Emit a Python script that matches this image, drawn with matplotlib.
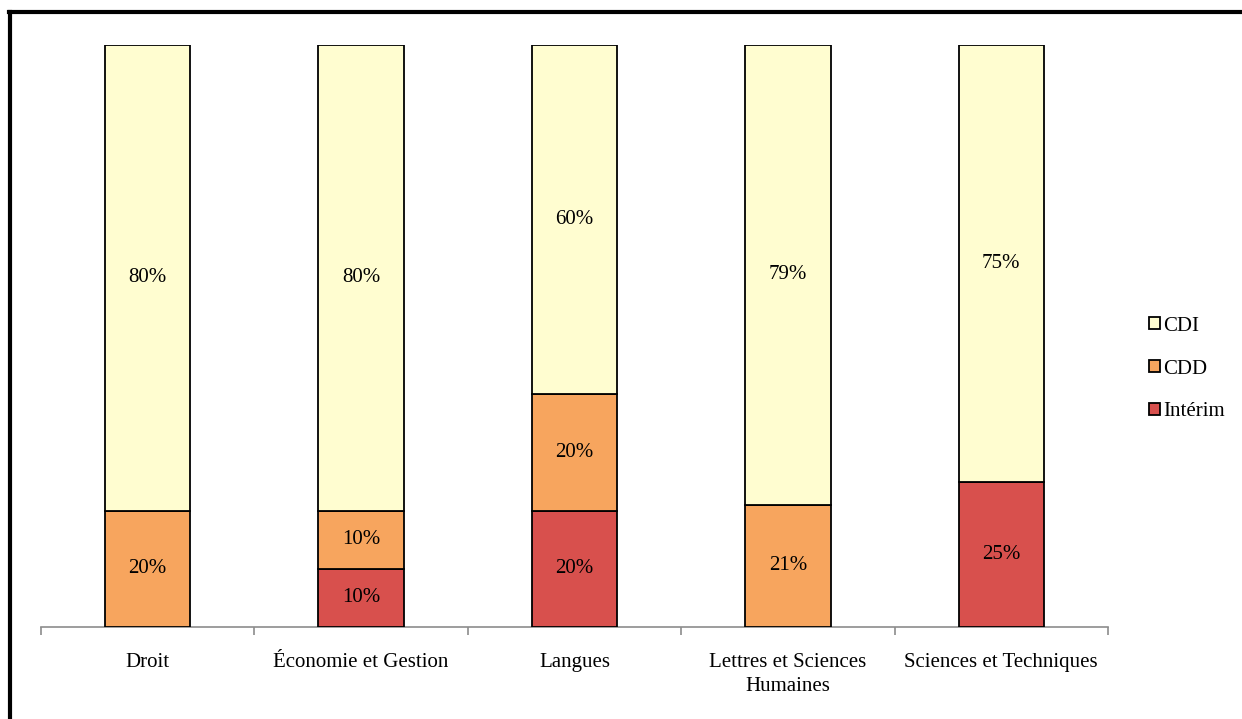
import matplotlib
matplotlib.use('Agg')
import matplotlib.pyplot as plt
from matplotlib.lines import Line2D
from matplotlib.patches import Patch
import numpy as np

plt.rcParams['font.family'] = ['Liberation Serif', 'DejaVu Serif']

categories = ['Droit', 'Économie et Gestion', 'Langues',
              'Lettres et Sciences\nHumaines', 'Sciences et Techniques']
interim = [0, 10, 20, 0, 25]
cdd = [20, 10, 20, 21, 0]
cdi = [80, 80, 60, 79, 75]

series = [('Intérim', interim, '#D8504D'),
          ('CDD', cdd, '#F7A55E'),
          ('CDI', cdi, '#FFFDD0')]

FS = 15

fig = plt.figure(figsize=(12.42, 7.19), dpi=100)
ax = fig.add_axes([41 / 1242, 1 - 627 / 719, (1108 - 41) / 1242, (627 - 45) / 719])

x = np.arange(len(categories))
bottom = np.zeros(len(categories))
for name, vals, col in series:
    vals = np.array(vals, dtype=float)
    ax.bar(x, vals, 0.4, bottom=bottom, color=col, edgecolor='black',
           linewidth=1.3, label=name, zorder=3)
    for xi, b, v in zip(x, bottom, vals):
        if v > 0:
            ax.text(xi, b + v / 2, '{:.0f}%'.format(v), ha='center',
                    va='center', fontsize=FS, zorder=4)
    bottom += vals

ax.set_xlim(-0.5, len(categories) - 0.5)
ax.set_ylim(0, 100)
ax.set_yticks([])
for s in ['top', 'right', 'left']:
    ax.spines[s].set_visible(False)
ax.spines['bottom'].set_color('#8c8c8c')
ax.spines['bottom'].set_linewidth(1.2)

ax.set_xticks(np.arange(-0.5, len(categories)), minor=False)
ax.set_xticklabels([])
ax.tick_params(axis='x', length=6, color='#8c8c8c', width=1.2)
for xi, lab in zip(x, categories):
    ax.text(xi, -4.4, lab, ha='center', va='top', fontsize=FS,
            linespacing=1.38)

handles = [Patch(facecolor=c, edgecolor='black', linewidth=1.3, label=n)
           for n, _, c in reversed(series)]
leg = fig.legend(handles=handles, loc='center left',
                 bbox_to_anchor=(1141 / 1242, 1 - 369 / 719),
                 frameon=False, fontsize=FS, handlelength=0.5,
                 handleheight=0.5, handletextpad=0.15, labelspacing=1.15,
                 borderaxespad=0)

# outer frame (only top and left visible in the crop)
fig.add_artist(Line2D([10 / 1242, 10 / 1242], [0, 1 - 12 / 719],
                      transform=fig.transFigure, color='black', linewidth=3))
fig.add_artist(Line2D([8.5 / 1242, 1], [1 - 12 / 719, 1 - 12 / 719],
                      transform=fig.transFigure, color='black', linewidth=3))

fig.savefig('out.png', dpi=100)
